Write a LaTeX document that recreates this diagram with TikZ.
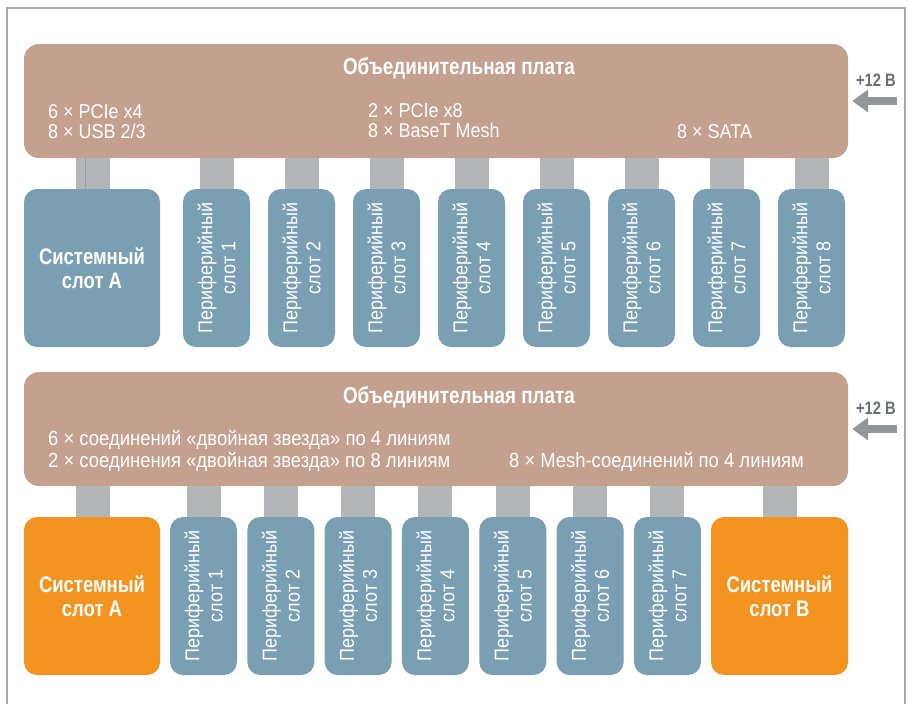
\documentclass[tikz,border=0pt]{standalone}
\usepackage{fontspec}
\setmainfont[FakeStretch=0.9]{Liberation Sans}
\newfontfamily\bcond[FakeStretch=0.82]{Liberation Sans}
\usetikzlibrary{arrows.meta}
\definecolor{bpc}{HTML}{C4A08E}
\definecolor{slotc}{HTML}{7A9FB3}
\definecolor{orc}{HTML}{F39320}
\definecolor{connc}{HTML}{B3B5B8}
\definecolor{arrc}{HTML}{939598}
\definecolor{voltc}{HTML}{6D6E71}
\definecolor{framec}{HTML}{A7A9AC}
\definecolor{thinc}{HTML}{8AA0AC}
\tikzset{
  board/.style={fill=bpc, draw=none, rounded corners=15pt, minimum width=824pt, minimum height=114pt, inner sep=0pt},
  slotbox/.style={fill=slotc, draw=none, rounded corners=13pt, minimum width=67pt, minimum height=158pt, inner sep=0pt},
  sysbox/.style={draw=none, rounded corners=13pt, minimum width=136pt, minimum height=158pt, inner sep=0pt,
     text=white, align=center, font=\bcond\bfseries\fontsize{22.5}{24}\selectfont},
  vtext/.style={rotate=90, text=white, align=center, inner sep=0pt, font=\fontsize{20}{23}\selectfont},
  conn/.style={draw=connc, line width=34pt},
  info/.style={text=white, anchor=base west, inner sep=0pt, font=\fontsize{20}{21}\selectfont},
  infob/.style={info, font=\fontsize{20.5}{21}\selectfont},
  btitle/.style={text=white, anchor=base, inner sep=0pt, font=\bcond\bfseries\fontsize{23}{24}\selectfont},
  volt/.style={text=voltc, inner sep=0pt, font=\bcond\bfseries\fontsize{18}{19}\selectfont},
  pwr/.style={draw=arrc, line width=8pt, -{Triangle[length=16pt,width=22pt]}}
}
\begin{document}
\begin{tikzpicture}[x=1pt,y=-1pt]
\useasboundingbox (0,0) rectangle (909,704);
\fill[white] (0,0) rectangle (909,704);
% frame
\draw[framec, line width=1.5pt] (7,704) -- (7,8) -- (905,8) -- (905,704);

% ===== top group =====
\node[board] (bpTop) at (436,101) {};
\node[btitle] (t1) at (459,74) {Объединительная плата};
\node[info] (i1a) at (48,118) {6 × PCIe x4};
\node[info] (i1b) at (48,138) {8 × USB 2/3};
\node[info] (i1c) at (368,117) {2 × PCIe x8};
\node[info] (i1d) at (368,137) {8 × BaseT Mesh};
\node[info] (i1e) at (677,138) {8 × SATA};

\node[sysbox, fill=slotc] (tA) at (92,268) {Системный\\слот А};
\foreach \i in {1,...,8} {
  \node[slotbox] (ts\i) at ({216.5+85*(\i-1)},268) {};
  \node[vtext] (tsl\i) at (ts\i.center) {Периферийный\\слот \i};
  \draw[conn] (ts\i.north) -- (ts\i.north |- bpTop.south);
}
\draw[conn] ([xshift=1pt]tA.north) -- ([xshift=1pt]tA.north |- bpTop.south);
\draw[thinc, line width=1pt] ([xshift=-7pt]tA.north) -- ([xshift=-7pt]tA.north |- bpTop.south);

\node[volt] (v1) at (876,80) {+12 В};
\coordinate (p1) at (897,101);
\draw[pwr] (p1) -- ([xshift=4pt]bpTop.east);

% ===== bottom group =====
\node[board] (bpBot) at (436,429) {};
\node[btitle] (t2) at (459,403) {Объединительная плата};
\node[infob] (i2a) at (48,445) {6 × соединений «двойная звезда» по 4 линиям};
\node[infob] (i2b) at (48,467) {2 × соединения «двойная звезда» по 8 линиям};
\node[infob] (i2c) at (509,467) {8 × Mesh-соединений по 4 линиям};

\node[sysbox, fill=orc] (bA) at (92,596) {Системный\\слот А};
\node[sysbox, fill=orc, minimum width=137pt] (bB) at (779.5,596) {Системный\\слот В};
\foreach \i in {1,...,7} {
  \node[slotbox] (bs\i) at ({203.5+77.33*(\i-1)},596) {};
  \node[vtext] (bsl\i) at (bs\i.center) {Периферийный\\слот \i};
  \draw[conn] (bs\i.north) -- (bs\i.north |- bpBot.south);
}
\draw[conn] ([xshift=1pt]bA.north) -- ([xshift=1pt]bA.north |- bpBot.south);
\draw[conn] (bB.north) -- (bB.north |- bpBot.south);

\node[volt] (v2) at (876,408) {+12 В};
\coordinate (p2) at (897,429);
\draw[pwr] (p2) -- ([xshift=4pt]bpBot.east);
\end{tikzpicture}
\end{document}
